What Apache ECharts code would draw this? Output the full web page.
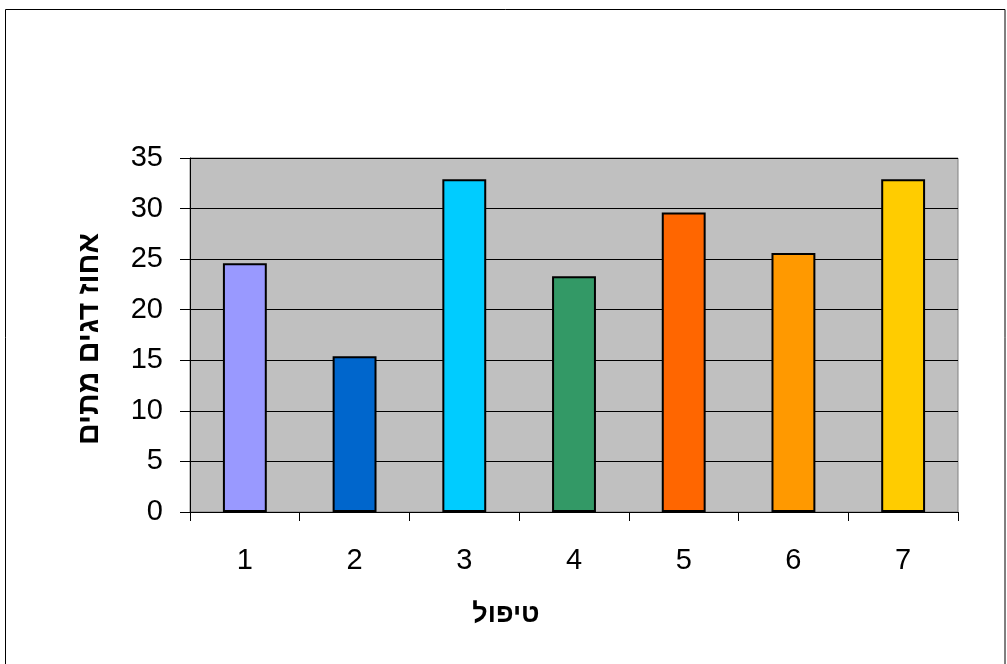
<!DOCTYPE html>
<html>
<head>
<meta charset="utf-8">
<script src="https://cdn.jsdelivr.net/npm/echarts@6/dist/echarts.min.js"></script>
<style>
  html, body { margin: 0; padding: 0; background: #ffffff; }
  #chart { width: 1007px; height: 664px; }
</style>
</head>
<body>
<div id="chart"></div>
<script>
// Treatments and the percentage of dead fish per treatment
const categories = ['1', '2', '3', '4', '5', '6', '7'];
const deadFishPct = [24.6, 15.4, 32.9, 23.3, 29.6, 25.6, 32.9];
const barColors = ['#9999FF', '#0066CC', '#00CCFF', '#339966', '#FF6600', '#FF9900', '#FFCC00'];
const xTitle = 'טיפול';
const yTitle = 'אחוז דגים מתים';

const font = '"Liberation Sans", Arial, "DejaVu Sans", sans-serif';

const chart = echarts.init(document.getElementById('chart'), null, { renderer: 'canvas' });

chart.setOption({
  animation: false,
  backgroundColor: '#ffffff',
  graphic: [{
    type: 'rect',
    silent: true,
    shape: { x: 5.5, y: 9.5, width: 999.5, height: 700 },
    style: { fill: 'none', stroke: '#000000', lineWidth: 1 }
  }],
  grid: {
    left: 190, top: 158, right: 49, bottom: 152,
    show: true,
    backgroundColor: '#C0C0C0',
    borderColor: '#808080',
    borderWidth: 1
  },
  xAxis: {
    type: 'category',
    data: categories,
    name: xTitle,
    nameLocation: 'middle',
    nameGap: 89,
    nameTextStyle: {
      fontFamily: font, fontSize: 27, fontWeight: 'bold', color: '#000',
      padding: [0, 136, 0, 0]
    },
    axisLine: { lineStyle: { color: '#000', width: 1 } },
    axisTick: { show: true, length: 9, alignWithLabel: false, lineStyle: { color: '#000' } },
    axisLabel: { fontFamily: font, fontSize: 29, color: '#000', margin: 34 }
  },
  yAxis: {
    type: 'value',
    min: 0, max: 35, interval: 5,
    name: yTitle,
    nameLocation: 'middle',
    nameRotate: 90,
    nameGap: 85,
    nameTextStyle: {
      fontFamily: font, fontSize: 30, fontWeight: 'bold', color: '#000',
      padding: [0, 8, 0, 0]
    },
    axisLine: { show: true, lineStyle: { color: '#000', width: 1 } },
    axisTick: { show: true, length: 10, lineStyle: { color: '#000' } },
    axisLabel: { fontFamily: font, fontSize: 29, color: '#000', margin: 27 },
    splitLine: { show: true, lineStyle: { color: '#000', width: 1 } }
  },
  series: [{
    type: 'bar',
    data: deadFishPct.map((v, i) => ({
      value: v,
      itemStyle: { color: barColors[i] }
    })),
    barWidth: '40%',
    itemStyle: { borderColor: '#000', borderWidth: 2 }
  }]
});
</script>
</body>
</html>
